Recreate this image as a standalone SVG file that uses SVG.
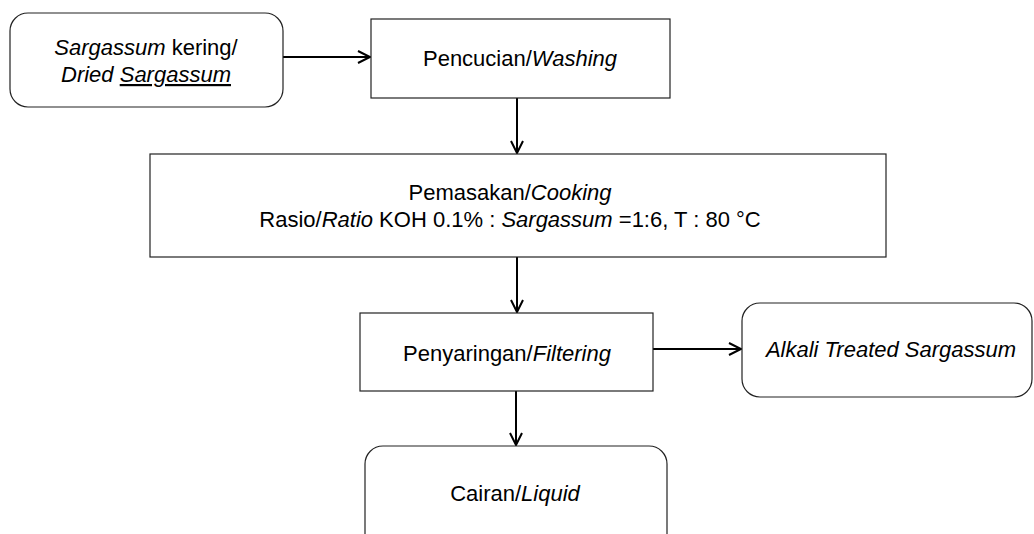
<svg xmlns="http://www.w3.org/2000/svg" width="1034" height="534" viewBox="0 0 1034 534">
<style>
.box{fill:#fff;stroke:#222;stroke-width:1.2}
.t{font-family:"Liberation Sans",Arial,sans-serif;font-size:22px;fill:#000;text-anchor:middle}
.i{font-style:italic}
.c{fill:none;stroke:#000;stroke-width:2}
</style>
<defs>
<marker id="ah" markerUnits="userSpaceOnUse" markerWidth="16" markerHeight="16" refX="13" refY="7" orient="auto">
<path d="M1,1 L13,7 L1,13" fill="none" stroke="#000" stroke-width="2"/>
</marker>
</defs>
<rect width="1034" height="534" fill="#fff"/>
<g id="connectors">
<line class="c" x1="283" y1="57" x2="370" y2="57" marker-end="url(#ah)"/>
<line class="c" x1="517" y1="98" x2="517" y2="153" marker-end="url(#ah)"/>
<line class="c" x1="517" y1="257" x2="517" y2="312" marker-end="url(#ah)"/>
<line class="c" x1="653" y1="349" x2="741" y2="349" marker-end="url(#ah)"/>
<line class="c" x1="516" y1="391" x2="516" y2="445" marker-end="url(#ah)"/>
</g>
<g id="dried">
<rect class="box" x="10" y="13" width="273" height="94" rx="18"/>
<text class="t i" x="146" y="55">Sargassum<tspan font-style="normal"> kering/</tspan></text>
<text class="t i" x="146" y="82">Dried <tspan style="text-decoration:underline">Sargassum</tspan></text>
</g>
<g id="washing">
<rect class="box" x="371" y="19" width="299" height="79"/>
<text class="t" x="520" y="66">Pencucian/<tspan class="i">Washing</tspan></text>
</g>
<g id="cooking">
<rect class="box" x="150" y="154" width="736" height="103"/>
<text class="t" x="510" y="200">Pemasakan/<tspan class="i">Cooking</tspan></text>
<text class="t" x="510" y="227">Rasio/<tspan class="i">Ratio</tspan> KOH 0.1% : <tspan class="i">Sargassum</tspan> =1:6, T : 80 °C</text>
</g>
<g id="filtering">
<rect class="box" x="360" y="313" width="293" height="78"/>
<text class="t" x="507" y="361">Penyaringan/<tspan class="i">Filtering</tspan></text>
</g>
<g id="alkali">
<rect class="box" x="742" y="303" width="290" height="94" rx="18"/>
<text class="t i" x="891" y="357">Alkali Treated Sargassum</text>
</g>
<g id="liquid">
<rect class="box" x="365" y="446" width="302" height="110" rx="18"/>
<text class="t" x="515" y="501">Cairan/<tspan class="i">Liquid</tspan></text>
</g>
</svg>
